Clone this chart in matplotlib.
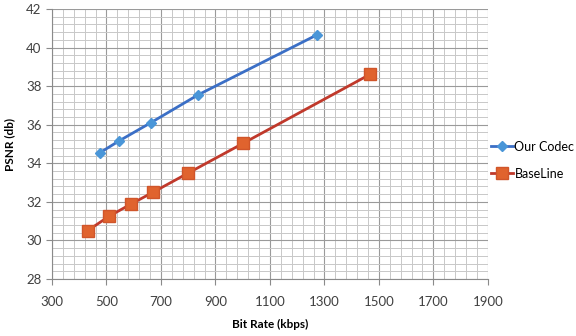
import matplotlib
matplotlib.use("Agg")
import numpy as np
import matplotlib.pyplot as plt
from matplotlib.ticker import MultipleLocator, FixedLocator

# rate-distortion points
codec_rate = [476, 546, 662, 835, 1271]
codec_psnr = [34.55, 35.16, 36.10, 37.54, 40.65]
base_rate = [431, 509, 589, 671, 798, 1002, 1467]
base_psnr = [30.51, 31.25, 31.88, 32.50, 33.48, 35.04, 38.61]

plt.rcParams['font.family'] = ['Lato', 'DejaVu Sans']

fig = plt.figure(figsize=(5.76, 3.36), dpi=100)
ax = fig.add_axes([0.0903, 0.1696, 0.7567, 0.8035])

ax.set_xlim(300, 1900)
ax.set_ylim(28, 42)
ax.xaxis.set_major_locator(FixedLocator(np.arange(300, 1901, 200)))
ax.xaxis.set_minor_locator(FixedLocator(np.arange(300, 1901, 40)))
ax.yaxis.set_major_locator(MultipleLocator(2))
ax.yaxis.set_minor_locator(MultipleLocator(0.4))

ax.grid(which='major', color='#9a9a9a', linewidth=0.8, zorder=0)
ax.grid(which='minor', color='#c8c8c8', linewidth=0.7, zorder=0)
ax.set_axisbelow(True)

for s in ['top', 'right']:
    ax.spines[s].set_visible(False)
for s in ['left', 'bottom']:
    ax.spines[s].set_color('#8a8a8a')
    ax.spines[s].set_linewidth(0.8)

ax.tick_params(which='major', direction='out', length=4, color='#8a8a8a',
               labelsize=9.5, labelcolor='#404040')
ax.tick_params(which='minor', length=0)
ax.tick_params(axis='x', pad=8)

ax.plot(codec_rate, codec_psnr, color='#3b6fc6', linewidth=2, marker='D',
        markersize=5, markerfacecolor='#4a96d8', markeredgecolor='#4a96d8',
        label='Our Codec', zorder=3)
ax.plot(base_rate, base_psnr, color='#c0392b', linewidth=2, marker='s',
        markersize=8, markerfacecolor='#e0632e', markeredgecolor='#d0552a',
        label='BaseLine', zorder=3)

ax.set_xlabel('Bit Rate (kbps)', fontsize=8.5, fontweight='bold', labelpad=8)
ax.set_ylabel('PSNR (db)', fontsize=8.5, fontweight='bold', labelpad=8)

ax.legend(loc='center left', bbox_to_anchor=(0.995, 0.44), frameon=False,
          fontsize=9, handlelength=1.8, handletextpad=0.1, labelspacing=1.2,
          borderaxespad=0)

fig.savefig('out.png', dpi=100)
